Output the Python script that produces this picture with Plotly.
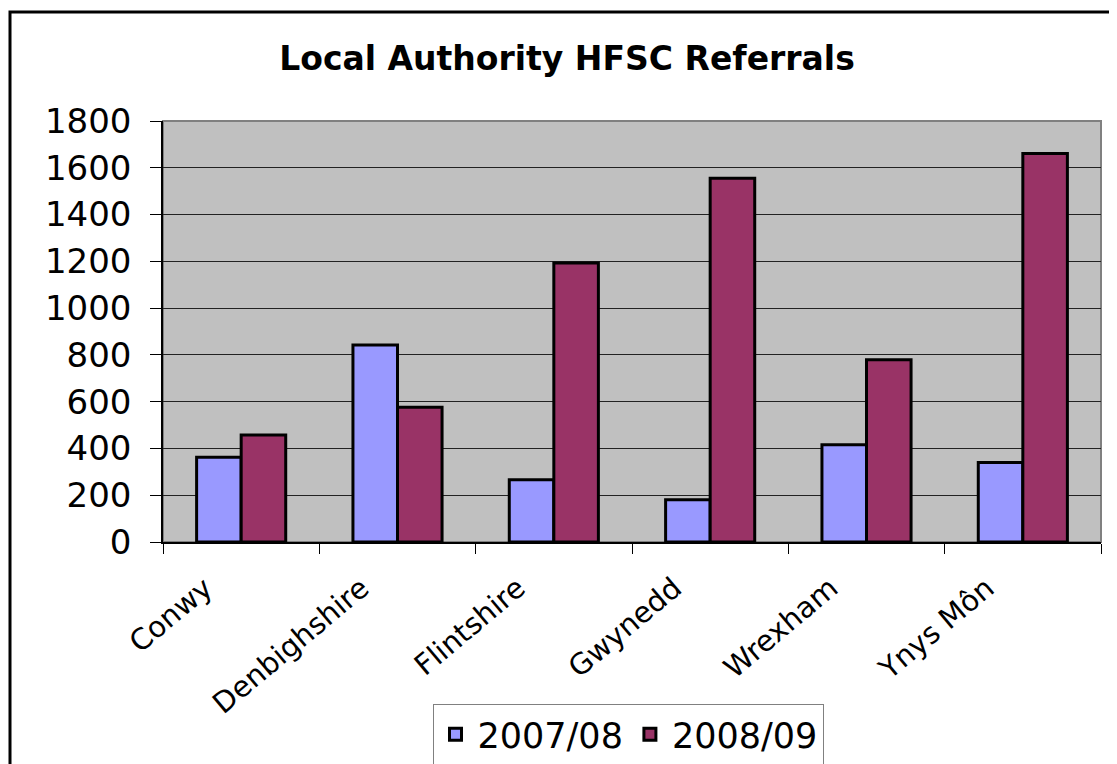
import plotly.graph_objects as go

categories = ["Conwy", "Denbighshire", "Flintshire", "Gwynedd", "Wrexham", "Ynys Môn"]
series_2007_08 = [362, 842, 266, 181, 416, 340]
series_2008_09 = [458, 576, 1193, 1555, 779, 1661]
y_ticks = [0, 200, 400, 600, 800, 1000, 1200, 1400, 1600, 1800]

OFF = 8  # default page body margin
W, H = 1117 - OFF, 764 - OFF
# plot area on page: x 163..1101, y 121..542
L, T = 163 - OFF, 121 - OFF
pw, ph = 1101 - 163, 542 - 121
R = W - L - pw
B = H - T - ph

def px(xpage):
    return (xpage - OFF - L) / pw

def py(ypage):
    return (T + ph - (ypage - OFF)) / ph

FONT = "DejaVu Sans"

fig = go.Figure()
fig.add_trace(go.Bar(
    x=categories, y=series_2007_08, name="2007/08",
    marker=dict(color="#9999FF", line=dict(color="black", width=3)),
))
fig.add_trace(go.Bar(
    x=categories, y=series_2008_09, name="2008/09",
    marker=dict(color="#993366", line=dict(color="black", width=3)),
))

fig.update_layout(
    width=W, height=H,
    margin=dict(l=L, r=R, t=T, b=B, autoexpand=False),
    paper_bgcolor="white",
    plot_bgcolor="#C0C0C0",
    barmode="group",
    bargap=0.43,
    bargroupgap=0,
    font=dict(family=FONT, color="black"),
    title=dict(
        text="<b>Local Authority HFSC Referrals</b>",
        font=dict(family=FONT, size=33, color="black"),
        x=(567 - OFF) / W, xanchor="center",
        y=1 - (58 - OFF) / H, yanchor="middle",
    ),
    showlegend=True,
    legend=dict(
        orientation="h",
        x=px(628), xanchor="center",
        y=py(704), yanchor="top",
        bgcolor="white",
        bordercolor="#808080", borderwidth=1,
        font=dict(family=FONT, size=35, color="black"),
        traceorder="normal",
        itemwidth=34,
    ),
    xaxis=dict(
        type="category",
        tickangle=-40,
        tickson="boundaries",
        ticks="outside", ticklen=10, tickcolor="black", tickwidth=1,
        showline=True, linecolor="black", linewidth=1.5,
        showgrid=False,
        tickfont=dict(family=FONT, size=29, color="black"),
        ticklabelshift=-36,
        ticklabelstandoff=16,
        range=[-0.5, 5.5],
    ),
    yaxis=dict(
        range=[0, 1800],
        tickvals=y_ticks,
        ticks="outside", ticklen=11, tickcolor="black", tickwidth=1,
        showline=True, linecolor="black", linewidth=1.5,
        showgrid=True, gridcolor="#222222", gridwidth=1,
        tickfont=dict(family=FONT, size=34, color="black"),
        ticklabelstandoff=12,
        zeroline=False,
    ),
    shapes=[
        dict(type="rect", xref="paper", yref="paper", x0=0, y0=0, x1=1, y1=1,
             line=dict(color="#808080", width=2), layer="below"),
        dict(type="rect", xref="paper", yref="paper",
             x0=px(10), y0=py(800), x1=px(1140), y1=py(12),
             line=dict(color="black", width=3)),
    ],
)

fig.write_html("out.html")
